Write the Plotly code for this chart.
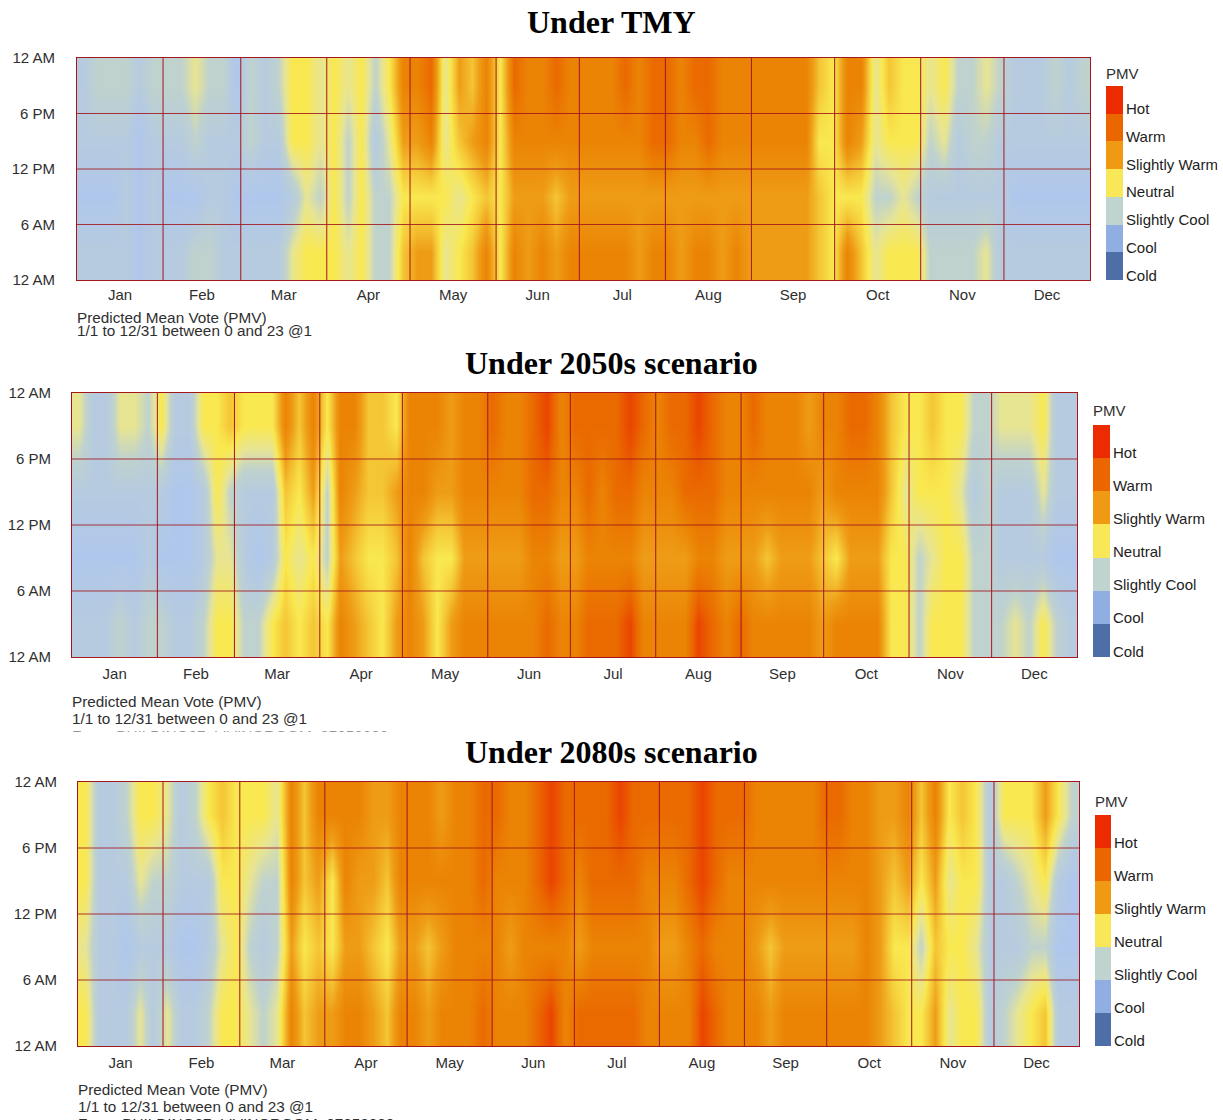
import plotly.graph_objects as go

W, H = 1223, 1120

MONTHS = ["Jan", "Feb", "Mar", "Apr", "May", "Jun", "Jul", "Aug", "Sep", "Oct", "Nov", "Dec"]
MONTH_STARTS = [0, 31, 59, 90, 120, 151, 181, 212, 243, 273, 304, 334, 365]
HOUR_TICKS = [0, 6, 12, 18, 24]
HOUR_LABELS = ["12 AM", "6 AM", "12 PM", "6 PM", "12 AM"]
LEGEND_LABELS = ["Cold", "Cool", "Slightly Cool", "Neutral", "Slightly Warm", "Warm", "Hot"]
LEGEND_COLORS = ["#4e6ea8", "#90aee2", "#c0d4cf", "#f8e756", "#ef9a12", "#ec6600", "#ec2b00"]

# Five-day periods along the year, four blocks of the day.
PERIOD_DAYS = [2.5 + 5 * i for i in range(73)]
HOUR_BLOCKS = [3, 9, 15, 21]

# Comfort level: 0 = cool blue ... 4 = neutral ... 9 = hottest.
TMY_H21 = [1,2,2,2,1,2, 2,2,3,2,2,0, 2,1,2,4,4,3, 4,3,4,2,4,7, 7,8,3,6,5,7, 4,8,7,7,8,7,7,
           7,7,8,7,8,8, 7,8,8,7,7,7, 7,7,7,7,5,4, 7,7,3,5,4,4, 3,4,2,2,3,2, 1,1,1,2,1,2]
TMY_H15 = [1,1,1,1,0,1, 1,1,2,1,1,1, 2,1,1,4,4,3, 4,2,4,1,3,6, 6,7,3,5,6,7, 4,7,7,7,7,7,7,
           7,7,7,7,8,8, 7,7,8,7,7,7, 7,7,7,7,4,4, 7,6,3,4,4,4, 2,3,1,2,2,1, 1,1,1,1,1,1]
TMY_H09 = [0,0,0,1,0,1, 0,0,0,1,1,0, 0,0,0,1,3,2, 4,2,4,2,2,4, 4,4,4,3,4,5, 4,6,6,6,5,6,6,
           6,6,6,6,6,6, 6,6,6,6,6,6, 6,6,6,6,5,4, 4,4,2,2,3,2, 1,1,1,1,1,1, 0,0,0,0,0,0]
TMY_H03 = [1,1,1,1,0,1, 1,1,2,2,1,1, 1,1,1,3,4,4, 4,3,4,2,2,5, 6,6,3,4,5,7, 4,7,6,7,6,7,7,
           7,7,7,6,7,7, 6,7,7,6,7,6, 6,6,6,6,5,4, 7,5,3,4,4,4, 2,2,2,2,3,1, 1,1,1,1,1,1]

S2050_H21 = [3,1,1,3,3,2, 4,1,1,4,4,5, 4,4,4,7,5,7, 4,7,7,5,5,4, 7,7,7,6,7,7, 8,7,7,8,9,7,8,
             8,8,8,9,8,7, 8,8,9,8,7,7, 8,7,7,7,6,7, 7,8,8,7,5,4, 4,5,4,4,2,2, 3,3,3,4,1,1]
S2050_H15 = [1,1,1,1,1,1, 1,0,0,1,4,2, 1,1,1,5,4,6, 2,7,6,5,5,6, 7,7,6,6,7,7, 7,7,7,8,8,7,7,
             8,7,8,8,7,7, 7,8,8,8,7,7, 7,7,7,7,7,6, 7,7,7,7,5,3, 4,4,4,3,1,2, 1,1,1,3,1,1]
S2050_H09 = [0,0,0,0,0,1, 0,0,0,1,3,3, 1,0,1,4,3,4, 2,6,5,4,4,5, 7,5,4,4,6,6, 6,6,6,7,7,6,6,
             7,7,7,7,6,6, 6,6,7,7,6,6, 6,5,6,6,6,5, 4,6,6,6,4,4, 2,3,4,4,2,2, 1,1,1,1,0,0]
S2050_H03 = [1,1,1,2,1,2, 2,1,1,2,4,4, 2,2,4,5,4,5, 4,7,6,5,4,6, 7,6,4,6,7,7, 7,7,7,7,8,7,7,
             8,8,8,9,7,7, 7,7,9,8,7,8, 7,7,7,7,7,6, 7,7,7,7,4,4, 2,4,4,4,2,2, 2,3,2,4,2,1]

S2080_H21 = [4,1,1,2,4,4, 3,1,2,4,5,4, 4,4,3,7,5,7, 7,7,7,6,6,7, 7,7,6,7,7,8, 8,7,7,8,9,8,8,
             8,8,9,8,8,8, 8,8,9,8,8,8, 7,7,7,7,7,8, 8,7,7,6,6,7, 5,7,4,5,4,1, 4,4,4,6,4,2]
S2080_H15 = [4,1,1,1,3,2, 2,1,1,1,4,4, 3,2,2,7,5,6, 4,7,6,6,5,7, 7,7,7,7,7,8, 7,7,7,8,9,8,7,
             8,8,8,8,7,7, 7,8,9,8,7,7, 7,7,7,7,7,7, 7,7,7,6,5,6, 4,6,3,4,4,1, 1,2,3,4,1,0]
S2080_H09 = [3,1,1,0,1,1, 1,0,0,1,3,4, 2,1,2,6,4,5, 4,6,6,5,4,6, 6,5,6,7,7,7, 7,6,7,7,7,7,6,
             7,7,7,7,7,6, 6,7,8,7,7,7, 6,5,6,6,6,6, 6,6,7,6,4,4, 2,5,4,4,3,1, 1,1,2,2,0,0]
S2080_H03 = [4,1,1,1,3,1, 3,1,1,2,4,4, 3,2,3,7,5,6, 6,7,7,6,5,7, 7,6,7,7,7,8, 7,7,7,8,9,7,8,
             8,8,8,8,7,7, 7,7,9,8,7,7, 7,6,7,7,7,7, 7,7,7,6,5,4, 4,6,3,4,4,1, 2,3,4,5,1,1]

HEAT_SCALE = [
    [0 / 9, "#afc7ec"], [1 / 9, "#b6cbdf"], [2 / 9, "#bfd2ce"], [3 / 9, "#e8e592"], [4 / 9, "#f9e850"],
    [5 / 9, "#f4c535"], [6 / 9, "#ee9c16"], [7 / 9, "#eb8405"], [8 / 9, "#ea6a00"], [9 / 9, "#ea4400"],
]

PANELS = [
    dict(title="Under TMY", title_y=22, box=(77, 58, 1090, 280), leg=(1106, 86, 1123, 280), fs=15,
         rows=[TMY_H03, TMY_H09, TMY_H15, TMY_H21], pmv_y=74, sub_y=(317, 331), ystand=18, xstand=1),
    dict(title="Under 2050s scenario", title_y=363, box=(72, 393, 1077, 657), leg=(1093, 425, 1110, 657), fs=15,
         rows=[S2050_H03, S2050_H09, S2050_H15, S2050_H21], pmv_y=411, sub_y=(701, 718, 735), ystand=17, xstand=3),
    dict(title="Under 2080s scenario", title_y=752, box=(78, 782, 1079, 1046), leg=(1095, 815, 1111, 1046), fs=15,
         rows=[S2080_H03, S2080_H09, S2080_H15, S2080_H21], pmv_y=801, sub_y=(1089, 1106, 1123), ystand=17, xstand=3),
]
SUB_LINES = ["Predicted Mean Vote (PMV)", "1/1 to 12/31 between 0 and 23 @1", "From: BUILDING27: LIVINGROOM: 07052000"]

fig = go.Figure()
layout = {}
shapes = []
notes = []
TEXT = "#2f2f2f"
LINE = "#a3161c"


def fx(p):
    return p / W


def fy(p):
    return 1 - p / H


def note(text, x, y, size, anchor="left", family="Liberation Sans", color=TEXT):
    notes.append(dict(text=text, x=fx(x), y=fy(y), xref="paper", yref="paper", xanchor=anchor, yanchor="middle",
                      showarrow=False, font=dict(family=family, size=size, color=color)))


def cover(x0, y0, x1, y1):
    notes.append(dict(text=" ", x=fx(x0), y=fy(y0), xref="paper", yref="paper", xanchor="left", yanchor="top",
                      width=x1 - x0, height=y1 - y0, bgcolor="#ffffff", showarrow=False, borderpad=0))


def aid(letter, n):
    return letter if n == 1 else f"{letter}{n}"


mid_month = [(a + b) / 2 for a, b in zip(MONTH_STARTS[:-1], MONTH_STARTS[1:])]
for i, p in enumerate(PANELS):
    main = i * 2 + 1
    leg = i * 2 + 2
    xm, ym, xl, yl = aid("x", main), aid("y", main), aid("x", leg), aid("y", leg)
    x0, y0, x1, y1 = p["box"]
    fig.add_trace(go.Heatmap(x=PERIOD_DAYS, y=HOUR_BLOCKS, z=p["rows"], zmin=0, zmax=9, zsmooth="best",
                             colorscale=HEAT_SCALE, showscale=False, xaxis=xm, yaxis=ym))
    layout[f"xaxis{main}"] = dict(domain=[fx(x0), fx(x1)], range=[0, 365], anchor=ym, tickmode="array",
                                  tickvals=mid_month, ticktext=MONTHS, ticks="outside", ticklen=p["xstand"],
                                  tickcolor="rgba(0,0,0,0)", showgrid=False, zeroline=False, showline=True, mirror=True,
                                  linecolor=LINE, linewidth=1, tickfont=dict(family="Liberation Sans", size=p["fs"], color=TEXT))
    layout[f"yaxis{main}"] = dict(domain=[fy(y1), fy(y0)], range=[0, 24], anchor=xm, tickmode="array",
                                  tickvals=HOUR_TICKS, ticktext=HOUR_LABELS, ticks="outside", ticklen=p["ystand"],
                                  tickcolor="rgba(0,0,0,0)", showgrid=False, zeroline=False, showline=True, mirror=True,
                                  linecolor=LINE, linewidth=1, tickfont=dict(family="Liberation Sans", size=p["fs"], color=TEXT))
    for d in MONTH_STARTS[1:-1]:
        shapes.append(dict(type="line", xref=xm, yref=f"{ym} domain", x0=d, x1=d, y0=0, y1=1,
                           line=dict(color=LINE, width=1), layer="above"))
    for h in HOUR_TICKS[1:-1]:
        shapes.append(dict(type="line", xref=f"{xm} domain", yref=ym, x0=0, x1=1, y0=h, y1=h,
                           line=dict(color=LINE, width=1), opacity=0.85, layer="above"))

    lx0, ly0, lx1, ly1 = p["leg"]
    fig.add_trace(go.Heatmap(z=[[k] for k in range(7)], x=[0], y=list(range(7)), zmin=-0.5, zmax=6.5,
                             colorscale=[[(k + e) / 7, LEGEND_COLORS[k]] for k in range(7) for e in (0, 1)],
                             showscale=False, xaxis=xl, yaxis=yl))
    layout[f"xaxis{leg}"] = dict(domain=[fx(lx0), fx(lx1)], range=[-0.5, 0.5], anchor=yl, visible=False)
    layout[f"yaxis{leg}"] = dict(domain=[fy(ly1), fy(ly0)], range=[-0.5, 6.5], anchor=xl, side="right",
                                 tickmode="array", tickvals=[k - 0.33 for k in range(7)], ticktext=LEGEND_LABELS,
                                 ticks="", showgrid=False, zeroline=False, showline=False, ticklabelstandoff=2,
                                 tickfont=dict(family="Liberation Sans", size=p["fs"], color="#222222"))

    if i < 2:
        note("<b>" + p["title"] + "</b>", W / 2, p["title_y"], 32, anchor="center", family="Liberation Serif", color="#000000")
    note("PMV", lx0 - 2, p["pmv_y"], p["fs"])
    for line, y in zip(SUB_LINES, p["sub_y"]):
        note(line, x0 - 2, y, 15.3)

# The clipped third line of the middle panel and the clipped legend label of the top panel.
cover(60, 731, 480, 745)
cover(1217, 150, 1223, 180)
note("<b>" + PANELS[2]["title"] + "</b>", W / 2, PANELS[2]["title_y"], 32, anchor="center", family="Liberation Serif", color="#000000")

fig.update_layout(width=W, height=H, margin=dict(l=0, r=0, t=0, b=0, autoexpand=False), paper_bgcolor="#ffffff",
                  plot_bgcolor="#ffffff", shapes=shapes, annotations=notes, showlegend=False, **layout)
fig.write_html("out.html", config={"displayModeBar": False},
               post_script="document.body.style.margin='0';document.body.style.overflow='hidden';")
